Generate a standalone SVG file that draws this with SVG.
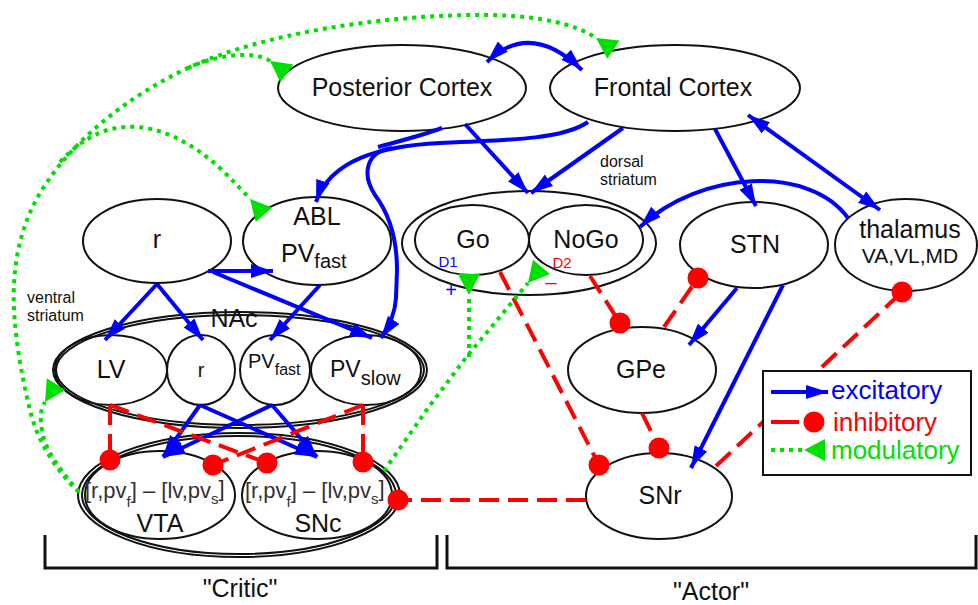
<svg xmlns="http://www.w3.org/2000/svg" width="978" height="605" viewBox="0 0 978 605">
<style>
text{font-family:"Liberation Sans",Arial,sans-serif;fill:#111}
text.b{fill:#0000ff}
text.r{fill:#ff0000}
text.g{fill:#00e000}
text.gr{fill:#333}
.n{fill:none;stroke:#111;stroke-width:2}
.t{font-size:25px;text-anchor:middle}
.ex{fill:none;stroke:#0000ff;stroke-width:4;marker-end:url(#ah)}
.ex2{fill:none;stroke:#0000ff;stroke-width:4;marker-end:url(#ah);marker-start:url(#ah)}
.exn{fill:none;stroke:#0000ff;stroke-width:4}
.in{fill:none;stroke:#ff0000;stroke-width:4;stroke-dasharray:20 9;marker-end:url(#dot)}
.mo{fill:none;stroke:#00e000;stroke-width:4;stroke-dasharray:4 5;marker-end:url(#tri)}
.sm{font-size:16px}
</style>
<defs>
<marker id="ah" markerUnits="userSpaceOnUse" markerWidth="24" markerHeight="16" viewBox="0 -8 24 16" refX="22" refY="0" orient="auto-start-reverse"><path d="M0,-7 L22,0 L0,7 z" fill="#0000ff"/></marker>
<marker id="dot" markerUnits="userSpaceOnUse" markerWidth="22" markerHeight="22" viewBox="-11 -11 22 22" refX="0" refY="0"><circle r="10.5" fill="#ff0000"/></marker>
<marker id="tri" markerUnits="userSpaceOnUse" markerWidth="24" markerHeight="24" viewBox="0 -12 24 24" refX="0" refY="0" orient="auto"><path d="M0,0 L21,-11 L21,11 z" fill="#00e000"/></marker>
</defs>
<rect width="978" height="605" fill="#fff"/>

<g id="posterior-cortex"><ellipse class="n" cx="402" cy="88" rx="124" ry="43"/><text class="t" x="402" y="96">Posterior Cortex</text></g>
<g id="frontal-cortex"><ellipse class="n" cx="675" cy="88" rx="125" ry="43"/><text class="t" x="673" y="96">Frontal Cortex</text></g>
<g id="r-top"><ellipse class="n" cx="157" cy="241" rx="74" ry="42"/><text class="t" x="157" y="248">r</text></g>
<g id="abl"><ellipse class="n" cx="317" cy="241" rx="74" ry="44"/><text class="t" x="317" y="225">ABL</text><text x="281" y="262" font-size="25">PV<tspan font-size="20" dy="6">fast</tspan></text></g>

<g id="nac"><ellipse class="n" cx="240" cy="370" rx="187" ry="58"/><ellipse class="n" cx="240" cy="370" rx="184" ry="55"/><text class="t" x="234" y="327">NAc</text>
<g id="lv"><ellipse class="n" cx="111" cy="370" rx="56" ry="35"/><text class="t" x="111" y="378">LV</text></g>
<g id="r-nac"><ellipse class="n" cx="201" cy="370" rx="34" ry="35"/><text x="201" y="377" font-size="20" text-anchor="middle">r</text></g>
<g id="pvfast-nac"><ellipse class="n" cx="275" cy="370" rx="35" ry="35"/><text x="248" y="368" font-size="20">PV<tspan font-size="16" dy="7">fast</tspan></text></g>
<g id="pvslow-nac"><ellipse class="n" cx="366" cy="370" rx="55" ry="35"/><text x="330" y="377" font-size="23">PV<tspan font-size="20" dy="8">slow</tspan></text></g>
</g>

<g id="vta-snc"><ellipse class="n" cx="239" cy="495" rx="161" ry="62"/><ellipse class="n" cx="239" cy="495" rx="157" ry="59"/>
<g id="vta"><ellipse class="n" cx="160" cy="495" rx="75" ry="44"/><text class="gr" x="85" y="498" font-size="22">[r,pv<tspan font-size="15" dy="9">f</tspan><tspan dy="-9">] – [lv,pv</tspan><tspan font-size="15" dy="6">s</tspan><tspan dy="-8">]</tspan></text><text class="t" x="160" y="532">VTA</text></g>
<g id="snc"><ellipse class="n" cx="317" cy="495" rx="75" ry="44"/><text class="gr" x="245" y="498" font-size="22">[r,pv<tspan font-size="15" dy="9">f</tspan><tspan dy="-9">] – [lv,pv</tspan><tspan font-size="15" dy="6">s</tspan><tspan dy="-8">]</tspan></text><text class="t" x="318" y="532">SNc</text></g>
</g>

<g id="dorsal-striatum"><ellipse class="n" cx="529" cy="243" rx="127" ry="52"/>
<g id="go"><ellipse class="n" cx="472" cy="240" rx="57" ry="35"/><text class="t" x="473" y="248">Go</text><text class="b" x="448" y="267" font-size="15" text-anchor="middle">D1</text></g>
<g id="nogo"><ellipse class="n" cx="586" cy="240" rx="57" ry="35"/><text class="t" x="586" y="248">NoGo</text><text class="r" x="562" y="268" font-size="15" text-anchor="middle">D2</text></g>
</g>
<text class="b" x="451" y="297" font-size="20" text-anchor="middle">+</text>
<text class="r" x="551" y="289" font-size="20" text-anchor="middle">–</text>

<g id="stn"><ellipse class="n" cx="754" cy="245" rx="74" ry="43"/><text class="t" x="755" y="253">STN</text></g>
<g id="thalamus"><ellipse class="n" cx="906" cy="245" rx="71" ry="46"/><text class="t" x="910" y="238">thalamus</text><text x="910" y="263" font-size="21" text-anchor="middle">VA,VL,MD</text></g>
<g id="gpe"><ellipse class="n" cx="642" cy="370" rx="74" ry="43"/><text class="t" x="641" y="378">GPe</text></g>
<g id="snr"><ellipse class="n" cx="659" cy="496" rx="73" ry="43"/><text class="t" x="660" y="504">SNr</text></g>

<text class="sm" x="27" y="303">ventral</text><text class="sm" x="27" y="321">striatum</text>
<text class="sm" x="600" y="167">dorsal</text><text class="sm" x="600" y="185">striatum</text>

<g id="connectors">
<path class="ex2" d="M487,62 Q530,20 582,70"/>
<path class="ex" d="M465,124 L528,193"/>
<path class="ex" d="M623,128 L531,193"/>
<path class="ex" d="M588,122 C565,138 520,140 440,143 C380,146 330,160 316,202"/>
<path class="exn" d="M442,128 C420,136 400,141 378,147"/>
<path class="ex" d="M392,148 C365,152 362,175 375,195 C390,215 397,240 397,270 L396,298 C395,315 388,328 381,338"/>
<path class="ex" d="M715,129 L756,206"/>
<path class="ex2" d="M748,115 L880,210"/>
<path class="ex" d="M848,218 C810,165 700,170 640,227"/>
<path class="ex" d="M208,271 L273,271"/>
<path class="ex" d="M213,272 L372,338"/>
<path class="ex" d="M157,284 L105,340"/>
<path class="ex" d="M157,284 L203,340"/>
<path class="ex" d="M320,285 L270,340"/>
<path class="ex" d="M200,405 L163,457"/>
<path class="ex" d="M200,405 L317,457"/>
<path class="ex" d="M272,405 L163,457"/>
<path class="ex" d="M272,405 L317,457"/>
<path class="ex" d="M737,288 L689,345"/>
<path class="ex" d="M783,285 L691,468"/>

<path class="in" d="M110,405 L110,460"/>
<path class="in" d="M110,405 L267,463"/>
<path class="in" d="M363,405 L363,462"/>
<path class="in" d="M363,405 L213,465"/>
<path class="in" d="M586,500 L398,500"/>
<path class="in" d="M500,272 L599,465"/>
<path class="in" d="M590,276 L620,323"/>
<path class="in" d="M664,327 L698,278"/>
<path class="in" d="M642,413 L659,448"/>
<path class="in" d="M716,466 L902,292"/>

<path class="mo" d="M79,492 C55,470 37,440 30,410 C20,370 12,320 14,285 C16,240 30,205 50,178 C80,135 130,95 190,67 C260,35 380,14 490,15 C540,16 575,24 596,38"/>
<path class="mo" d="M188,68 C215,55 255,50 270,61"/>
<path class="mo" d="M60,162 C85,135 110,125 137,127 C170,129 200,150 220,168 C232,180 242,190 250,199"/>
<path class="mo" d="M79,492 C60,470 45,450 42,430 C40,418 40,410 45,402"/>
<path class="mo" d="M384,471 L428,408 L468,355 L528,283"/>
<path class="mo" d="M469,357 L469,295"/>
</g>

<g id="legend">
<rect x="763" y="371" width="208" height="104" fill="#fff" stroke="#111" stroke-width="2"/>
<path class="ex" d="M771,392 L828,392"/>
<text class="b" x="831" y="399" font-size="26">excitatory</text>
<path class="in" d="M771,422 L814,422" style="stroke-dasharray:28 6"/>
<text class="r" x="833" y="431" font-size="26">inhibitory</text>
<path class="mo" d="M771,450 L804,450"/>
<text class="g" x="831" y="459" font-size="26">modulatory</text>
</g>

<g id="brackets" fill="none" stroke="#111" stroke-width="3">
<path d="M45,535 L45,568 L437,568 L437,535"/>
<path d="M447,535 L447,568 L976,568 L976,535"/>
</g>
<text class="t" x="240" y="597">"Critic"</text>
<text class="t" x="711" y="600">"Actor"</text>
</svg>
